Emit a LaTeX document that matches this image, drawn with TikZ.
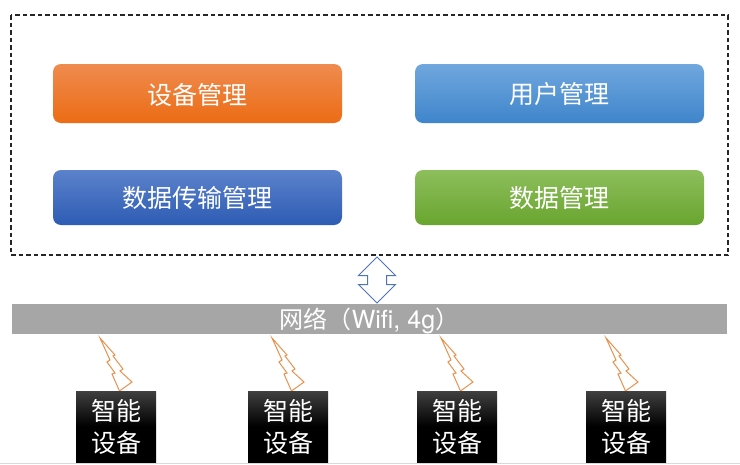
\documentclass[tikz,border=0pt]{standalone}
\usepackage{fontspec}
\setmainfont{Noto Sans CJK SC}
\newfontfamily\latinfont{TeX Gyre Heros}
\usepackage{xcolor}
\usetikzlibrary{positioning,shapes.arrows}
\definecolor{orangetop}{HTML}{EF8B4F}
\definecolor{orangebot}{HTML}{EC6C14}
\definecolor{skytop}{HTML}{70A7DE}
\definecolor{skybot}{HTML}{3F85CB}
\definecolor{bluetop}{HTML}{5B82CB}
\definecolor{bluebot}{HTML}{2E5CB4}
\definecolor{greentop}{HTML}{8DBE5C}
\definecolor{greenbot}{HTML}{69A52F}
\definecolor{bargray}{HTML}{A6A6A6}
\definecolor{boltline}{HTML}{E8924F}
\definecolor{arrowline}{HTML}{4F74B8}
\newcommand{\lowered}[2]{\raisebox{-#1}[\height][\depth]{#2}}

\begin{document}
\begin{tikzpicture}[
      x=1pt, y=-1pt,
      module/.style={rounded corners=8pt, minimum width=289pt, inner sep=0pt, outer sep=0pt, text=white, font=\fontsize{25}{25}\selectfont},
      device/.style={minimum width=80pt, minimum height=71pt, inner sep=0pt, outer sep=0pt, top color=black!75, bottom color=black, middle color=black, text=white, align=center, font=\fontsize{25}{32}\selectfont},
      bolt/.style={draw=boltline, line width=1pt, fill=white, line join=miter}
  ]
    \useasboundingbox (0,0) rectangle (740,464);
    \fill[white] (0,0) rectangle (740,464);
    \draw[black!15, line width=0.8pt] (0,463) -- (740,463);
    \draw[black!85, line width=1.2pt, dash pattern=on 4.5pt off 3pt] (11,15) rectangle (728,255);

    % the four service blocks
    \node[module, minimum height=59pt, top color=orangetop, bottom color=orangebot] (devmgr) at (197.5,93.5) {\lowered{1pt}{设备管理}};
    \node[module, minimum height=59pt, top color=skytop, bottom color=skybot] (usermgr) at (559.5,93.5) {\lowered{1pt}{用户管理}};
    \node[module, minimum height=55pt, top color=bluetop, bottom color=bluebot] (transmgr) at (197.5,197.5) {数据传输管理};
    \node[module, minimum height=55pt, top color=greentop, bottom color=greenbot] (datamgr) at (559.5,197.5) {数据管理};

    % network bar and the link above it
    \node[fill=bargray, minimum width=715pt, minimum height=30pt, inner sep=0pt, outer sep=0pt, text=white, font=\fontsize{24}{24}\selectfont] (net) at (369.5,319) {\lowered{2pt}{网络（{\latinfont\fontsize{25}{25}\selectfont Wifi, 4g}）}};
    \node[draw=arrowline, line width=1pt, fill=white, shape=double arrow, rotate=90, minimum height=46pt, text height=18pt, text depth=0pt, text width=10pt, double arrow head extend=9pt, inner sep=0pt, outer sep=0pt] (link) at (377,280) {};

    % devices with their wireless bolts
    \foreach \name/\cx/\tipx in {a/116/100, b/288/272, c/457/441, d/626/606} {
      \draw[bolt, shift={(\tipx,338)}] (0,0) -- (15,17) -- (13,18) -- (23,31) -- (20,33) -- (32,44) -- (19.5,53) -- (12,36) -- (15,35) -- (7,24) -- (10,22) -- cycle;
      \node[device] (dev\name) at (\cx,426.5) {智能\\设备};
    }
\end{tikzpicture}
\end{document}
